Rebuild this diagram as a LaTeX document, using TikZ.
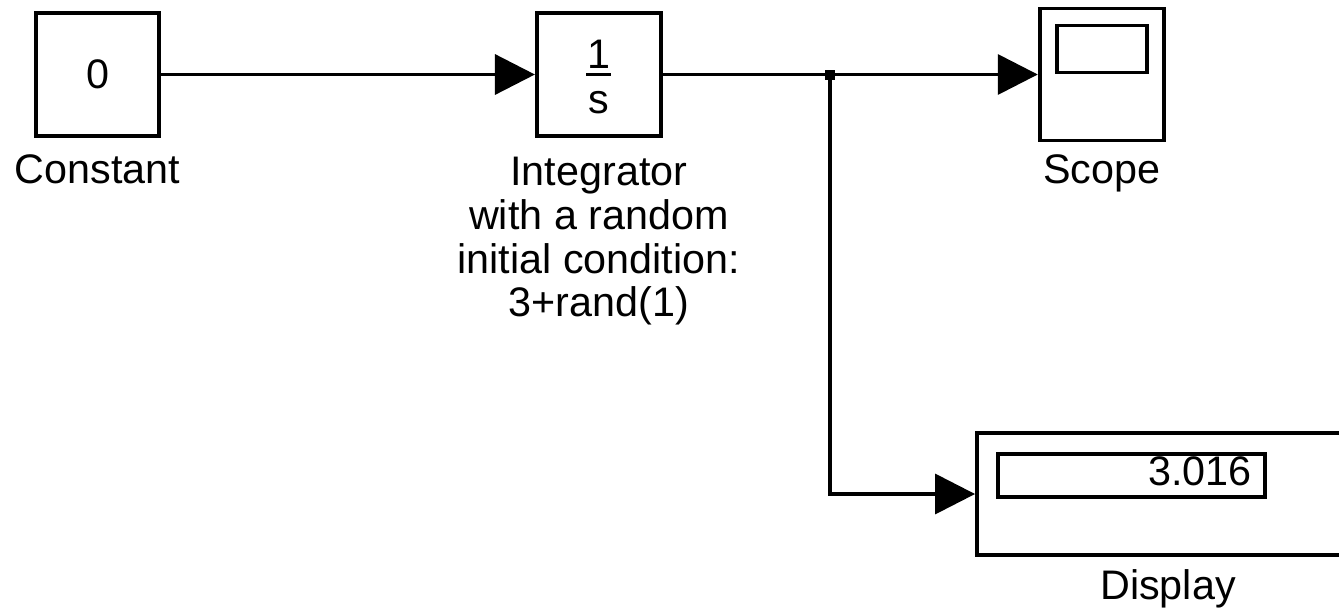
\documentclass[tikz,border=0pt]{standalone}
\usepackage{fontspec}
\setmainfont{Liberation Sans}
\usetikzlibrary{positioning,arrows.meta}

\begin{document}
\begin{tikzpicture}[
  font=\fontsize{23.5pt}{25pt}\selectfont,
  block/.style={draw, line width=2.2pt, minimum width=2.48cm, minimum height=2.46cm, inner sep=0pt},
  screen/.style={draw, line width=2.2pt, inner sep=0pt, anchor=north west},
  blocklbl/.style={anchor=base, align=center, inner sep=0pt},
  arr/.style={-{Triangle[length=0.8cm, width=0.8cm]}, line width=2pt},
  branch/.style={fill, minimum size=0.2cm, inner sep=0pt},
]
\useasboundingbox (0,0) rectangle (26.78,-12.26);
\clip (0,0) rectangle (26.78,-12.26);

% Blocks
\node[block, minimum width=2.46cm] (const) at (1.95,-1.49) {0};
\node[block, right=7.48cm of const] (integ) {};
\node[blocklbl] (integnum) at ([yshift=0.13cm]integ.center) {1};
\node[blocklbl] (integden) at ([yshift=-0.77cm]integ.center) {s};
\draw[line width=2pt] ([xshift=-0.25cm]integ.center) -- ([xshift=0.25cm]integ.center);

\node[block, minimum height=2.64cm, right=7.5cm of integ] (scope) {};
\node[screen, minimum width=1.8cm, minimum height=0.94cm] (scopescr) at ([shift={(0.34cm,-0.34cm)}]scope.north west) {};

\node[block, minimum width=7.64cm, minimum height=2.44cm] (disp) at (23.36,-9.88) {};
\node[screen, minimum width=5.34cm, minimum height=0.86cm] (dispscr) at ([shift={(0.42cm,-0.42cm)}]disp.north west) {};
\node[anchor=east, inner sep=0pt] (dispval) at ([xshift=-0.3cm, yshift=0.08cm]dispscr.east) {3.016};

% Labels (base of a multi-line label is its last line)
\node[blocklbl] (constlbl) at ([yshift=-0.92cm]const.south) {Constant};
\node[blocklbl] (integlbl) at ([yshift=-3.58cm]integ.south) {Integrator\\with a random\\initial condition:\\3+rand(1)};
\node[blocklbl] (scopelbl) at ([yshift=-0.82cm]scope.south) {Scope};
\node[blocklbl] (displbl) at ([yshift=-0.86cm]disp.south) {Display};

% Signals
\node[branch] (br) at ([xshift=3.34cm]integ.east) {};
\draw[arr] (const) -- (integ);
\draw[arr] (integ) -- (scope);
\draw[arr] (br.center) |- (disp.west);
\end{tikzpicture}
\end{document}
